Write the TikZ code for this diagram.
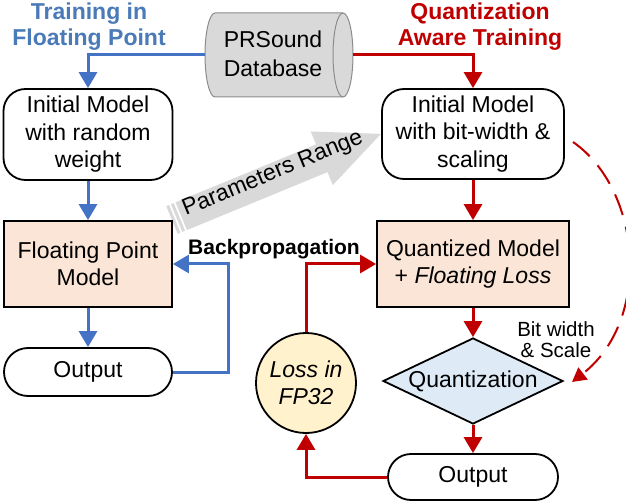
\documentclass[tikz,border=0pt]{standalone}
\usepackage{fontspec}
\setmainfont{Liberation Sans}
\usetikzlibrary{arrows.meta,shapes.geometric}
\definecolor{bl}{HTML}{4472C4}
\definecolor{tbl}{HTML}{4A7AB8}
\definecolor{rd}{HTML}{C00000}
\definecolor{peach}{HTML}{FBE5D6}
\definecolor{lblue}{HTML}{DEEBF7}
\definecolor{lyel}{HTML}{FFF2CC}
\definecolor{cylfill}{HTML}{D9D9D9}
\definecolor{cylline}{HTML}{8C8C8C}
\definecolor{arrgray}{HTML}{D9D9D9}
\begin{document}
\begin{tikzpicture}[x=1pt,y=-1pt,
  txt/.style={font=\fontsize{23}{27.5}\selectfont, align=center, inner sep=0pt},
  box/.style={txt, draw=black, line width=1.8pt, fill=white},
  rr/.style={box, rounded corners=22pt},
  ttl/.style={font=\fontsize{23}{26}\selectfont\bfseries, align=center, inner sep=0pt},
  flowB/.style={draw=bl, line width=3pt, -{Triangle[length=16pt,width=18pt]}},
  flowR/.style={draw=rd, line width=3pt, -{Triangle[length=16pt,width=18pt]}}
]
\useasboundingbox (0,0) rectangle (626,502);
\fill[white] (0,0) rectangle (626,502);
% titles
\node[ttl, text=tbl] (t1) at (89,27) {Training in\\Floating Point};
\node[ttl, text=rd] (t2) at (480,27) {Quantization\\Aware Training};
% database cylinder
\filldraw[fill=cylfill, draw=cylline, line width=1pt] (215,13) -- (343,13) .. controls (348.5,13) and (353,31.8) .. (353,55) .. controls (353,78.2) and (348.5,97) .. (343,97) -- (215,97) .. controls (209.5,97) and (205,78.2) .. (205,55) .. controls (205,31.8) and (209.5,13) .. cycle;
\draw[cylline, line width=1pt] (343,13) .. controls (337.5,13) and (333,31.8) .. (333,55) .. controls (333,78.2) and (337.5,97) .. (343,97);
\node[txt, font=\fontsize{23}{29}\selectfont] (db) at (273,54) {PRSound\\Database};
\coordinate (dbL) at (205,55);
\coordinate (dbR) at (353,55);
% parameters range arrow
\begin{scope}[shift={(172,220)}, rotate=22.4]
\fill[arrgray] (0,-15) rectangle (3,15) (5,-15) rectangle (8,15);
\fill[arrgray] (10,-15) -- (162,-15) -- (162,-29) -- (226,0) -- (162,29) -- (162,15) -- (10,15) -- cycle;
\end{scope}
\node[txt, rotate=22.4] (pr) at (273,174) {Parameters Range};
% nodes
\node[rr, minimum width=169pt, minimum height=91pt] (initL) at (88,134.5) {Initial Model\\with random\\weight};
\node[rr, minimum width=182pt, minimum height=90pt] (initR) at (473,134) {Initial Model\\with bit-width \&\\scaling};
\node[box, fill=peach, minimum width=168pt, minimum height=86pt] (fpm) at (88,264) {Floating Point\\Model};
\node[box, fill=peach, minimum width=192pt, minimum height=86pt] (qm) at (473,264) {Quantized Model\\+ \textit{Floating Loss}};
\node[box, rounded corners=24pt, minimum width=168pt, minimum height=48pt] (outL) at (88,372) {Output};
\node[box, diamond, aspect=2.1, fill=lblue, minimum width=180pt, minimum height=86pt] (quant) at (473,381) {Quantization};
\node[box, rounded corners=23pt, minimum width=170pt, minimum height=46pt] (outR) at (473,477) {Output};
\node[box, circle, fill=lyel, minimum size=100pt] (loss) at (306,383) {\textit{Loss in}\\\textit{FP32}};
% labels
\node[font=\fontsize{21}{25}\selectfont\bfseries, inner sep=0pt] (bp) at (274,249) {Backpropagation};
\node[font=\fontsize{20.5}{21}\selectfont, align=center, inner sep=0pt] (bw) at (556,340) {Bit width\\\& Scale};
% connectors
\draw[flowB] (dbL) -| (initL.north);
\draw[flowR] (dbR) -| (initR.north);
\draw[flowB] (initL.south) -- (fpm.north);
\draw[flowB] (fpm.south) -- (outL.north);
\coordinate (bpL) at (228,0);
\draw[flowB] (outL.east) -- (outL.east -| bpL) |- (fpm.east);
\draw[flowR] (initR.south) -- (qm.north);
\draw[flowR] (qm.south) -- (quant.north);
\draw[flowR] (quant.south) -- (outR.north);
\draw[flowR] (outR.west) -| (loss.south);
\draw[flowR] (loss.north) |- (qm.west);
\coordinate (dsStart) at (573,142);
\coordinate (dsEnd) at (572,382);
\draw[rd, line width=2pt, dash pattern=on 22pt off 12pt, -{Triangle[length=14pt,width=15pt]}] (dsStart) .. controls (642,190) and (652,320) .. (dsEnd);
\end{tikzpicture}
\end{document}
